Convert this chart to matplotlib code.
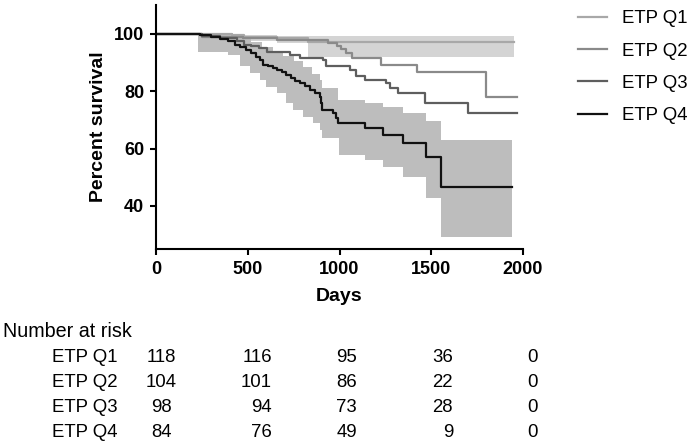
import numpy as np
import matplotlib
matplotlib.use("Agg")
import matplotlib.pyplot as plt

plt.rcParams["font.family"] = ["Liberation Sans", "DejaVu Sans"]

# Kaplan-Meier steps (days, percent survival)
q1_t = [0, 412, 480, 660, 827, 1949]
q1_s = [100, 99.4, 99.0, 98.4, 97.0, 97.0]

q2_t = [0, 250, 475, 657, 940, 985, 1010, 1038, 1070, 1228, 1421, 1801, 1970]
q2_s = [100, 99.0, 98.5, 97.9, 96.8, 95.6, 94.5, 93.3, 91.5, 89.2, 86.8, 77.9, 77.9]

q3_t = [0, 250, 350, 439, 480, 520, 560, 603, 729, 784, 910, 929, 1056, 1092,
        1138, 1256, 1273, 1317, 1464, 1700, 1970]
q3_s = [100, 99.2, 98.5, 97.3, 96.2, 95.6, 94.9, 93.8, 92.7, 91.5, 90.9, 88.6, 87.4, 85.1,
        84.0, 82.8, 81.0, 79.2, 76.0, 72.3, 72.3]

q4_t = [0, 240, 300, 350, 392, 430, 457, 490, 520, 545, 566, 584, 610, 635, 657, 685,
        711, 735, 760, 784, 810, 838, 865, 893, 898, 902, 965, 980, 993, 1138, 1237,
        1346, 1473, 1555, 1942]
q4_s = [100, 99.4, 98.8, 98.2, 97.3, 96.2, 95.5, 94.3, 93.2, 92.0, 90.9, 89.2, 88.6, 88.0,
        87.4, 86.5, 85.7, 84.6, 83.6, 82.8, 81.7, 80.5, 79.3, 78.1, 75.8, 73.5, 72.3, 70.5,
        68.8, 67.0, 64.7, 62.1, 57.2, 46.7, 46.7]

# confidence bands (Q1 and Q4 shown)
q1_band_t = [230, 410, 660, 827, 1949]
q1_band_lo = [97.8, 97.5, 96.8, 91.9, 91.9]
q1_band_hi = [100, 99.6, 99.3, 99.1, 99.1]

q4_up_t = [230, 390, 460, 520, 580, 640, 693, 750, 800, 850, 893, 902, 993, 1138,
           1237, 1346, 1473, 1555, 1942]
q4_up = [100, 99.5, 98.5, 97.0, 95.5, 94.0, 92.1, 90.5, 88.5, 86.0, 83.9, 81.0, 77.0,
         75.8, 74.6, 72.3, 69.7, 62.8, 62.8]
q4_lo_t = [230, 394, 457, 512, 566, 602, 657, 711, 747, 802, 856, 893, 902, 998, 1138,
           1237, 1346, 1473, 1555, 1942]
q4_lo = [93.8, 92.7, 88.6, 86.3, 83.9, 81.6, 79.3, 75.8, 73.5, 71.1, 68.8, 66.5, 63.6,
         57.8, 56.0, 53.7, 50.2, 42.7, 29.2, 29.2]

groups = ["ETP Q1", "ETP Q2", "ETP Q3", "ETP Q4"]
at_risk = {
    "ETP Q1": [118, 116, 95, 36, 0],
    "ETP Q2": [104, 101, 86, 22, 0],
    "ETP Q3": [98, 94, 73, 28, 0],
    "ETP Q4": [84, 76, 49, 9, 0],
}

colors = ["#a8a8a8", "#8a8a8a", "#5e5e5e", "#111111"]

W, H = 694, 441


def band_xy(t_up, up, t_lo, lo):
    grid = np.unique(np.concatenate([t_up, t_lo]))
    iu = np.searchsorted(t_up, grid, side="right") - 1
    il = np.searchsorted(t_lo, grid, side="right") - 1
    return grid, np.asarray(lo)[il], np.asarray(up)[iu]


fig = plt.figure(figsize=(W / 100, H / 100), dpi=100)
ax = fig.add_axes([156 / W, 1 - 249 / H, (523 - 156) / W, (249 - 5) / H])

ax.fill_between(q1_band_t, q1_band_lo, q1_band_hi, step="post",
                color="#d4d4d4", lw=0)
gx, glo, ghi = band_xy(q4_up_t, q4_up, q4_lo_t, q4_lo)
ax.fill_between(gx, glo, ghi, step="post", color="#bdbdbd", lw=0)

series = [(q1_t, q1_s), (q2_t, q2_s), (q3_t, q3_s), (q4_t, q4_s)]
for (t, s), name, c in zip(series, groups, colors):
    ax.step(t, s, where="post", color=c, lw=1.6, label=name)

ax.set_xlim(0, 2000)
ax.set_ylim(25, 110)
ax.set_xticks([0, 500, 1000, 1500, 2000])
ax.set_yticks([40, 60, 80, 100])
for side in ["top", "right"]:
    ax.spines[side].set_visible(False)
for side in ["left", "bottom"]:
    ax.spines[side].set_linewidth(1.5)
ax.tick_params(width=1.5, length=4.5, labelsize=13, pad=4)
for lab in ax.get_xticklabels() + ax.get_yticklabels():
    lab.set_fontweight("bold")
ax.set_xlabel("Days", fontsize=14, fontweight="bold", labelpad=7)
ax.set_ylabel("Percent survival", fontsize=14, fontweight="bold", labelpad=5)

ax.legend(loc="upper left", bbox_to_anchor=(578 / W, 1 - 10 / H),
          bbox_transform=fig.transFigure, frameon=False, fontsize=13.4,
          handlelength=1.56, handletextpad=0.8, labelspacing=0.83,
          borderpad=0, borderaxespad=0)

# number at risk table
fig.text(3 / W, 1 - 337 / H, "Number at risk", fontsize=14.2, va="baseline")
col_x = [161, 272, 357, 453, 538]
col_ha = ["center", "right", "right", "right", "right"]
for i, g in enumerate(groups):
    yb = 1 - (362 + 25 * i) / H
    fig.text(52 / W, yb, g, fontsize=13.4, va="baseline")
    for x, ha, v in zip(col_x, col_ha, at_risk[g]):
        fig.text(x / W, yb, str(v), fontsize=13.4, va="baseline", ha=ha)

fig.savefig("out.png", dpi=100)
